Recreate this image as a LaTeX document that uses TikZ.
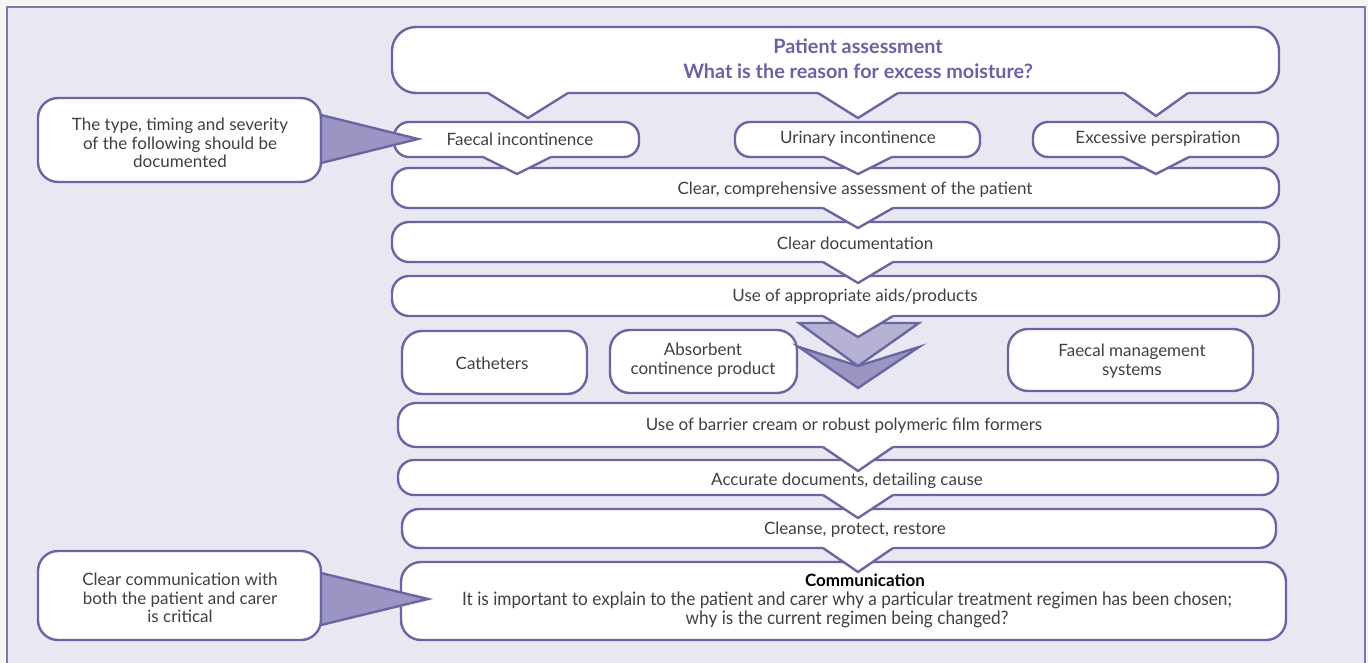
\documentclass[tikz,border=0pt]{standalone}
\usepackage{fontspec}
\setmainfont{Lato}
\usetikzlibrary{calc}
\definecolor{bg}{HTML}{E8E8F2}
\definecolor{frame}{HTML}{7E78B0}
\definecolor{edge}{HTML}{6C65A3}
\definecolor{ttl}{HTML}{6A62A3}
\definecolor{txt}{HTML}{404040}
\definecolor{chevL}{HTML}{B5B2D4}
\definecolor{chevD}{HTML}{9A95C3}
\newcommand\bx[6]{\node[box,rounded corners=#6,minimum width={(#3-#1)*1pt},minimum height={(#4-#2)*1pt}] (#5) at ({(#1+#3)/2},{(#2+#4)/2}) {};}
\newcommand\ptr[4]{%
  \fill[white] (#1-#4,#2-2.5) -- (#1-#4,#2) -- (#1,#3) -- (#1+#4,#2) -- (#1+#4,#2-2.5) -- cycle;
  \draw[edgeline] (#1-#4,#2) -- (#1,#3) -- (#1+#4,#2);}
\begin{document}
\begin{tikzpicture}[x=1pt,y=-1pt,
  box/.style={draw=edge,fill=white,line width=2.4pt,inner sep=0pt,outer sep=0pt},
  edgeline/.style={draw=edge,line width=2.4pt,line join=miter},
  t/.style={text=txt,font=\fontsize{17}{18.7}\selectfont,align=center,inner sep=0pt},
  ttlfont/.style={text=ttl,font=\fontsize{19.8}{25}\selectfont\bfseries,align=center,inner sep=0pt}]
\useasboundingbox (0,0) rectangle (1368,663);
\fill[white!96!black] (0,0) rectangle (1368,663);
\draw[frame,fill=bg,line width=1.6pt] (7,7) rectangle (1365,690);
% boxes
\bx{392}{27}{1279}{93}{top}{24pt}
\bx{394}{122}{639}{157}{fi}{15pt}
\bx{735}{122}{980}{157}{ui}{15pt}
\bx{1033}{122}{1278}{157}{ep}{15pt}
\bx{392}{168}{1279}{208}{cca}{17pt}
\bx{392}{222}{1279}{262}{cd}{17pt}
\bx{392}{276}{1279}{316}{aids}{17pt}
\bx{402}{331}{587}{394}{cath}{20pt}
\bx{610}{330}{797}{393}{abs}{20pt}
\bx{1008}{329}{1253}{391}{fms}{20pt}
\bx{398}{403}{1278}{447}{bar}{18pt}
\bx{398}{460}{1278}{495}{acc}{16pt}
\bx{402}{509}{1276}{548}{cle}{17pt}
\bx{401}{562}{1286}{640}{com}{20pt}
\bx{38}{98}{321}{182}{c1}{20pt}
\bx{38}{551}{321}{640}{c2}{20pt}
% chevrons
\draw[edgeline,fill=chevL] (799,323) -- (919,323) -- (858,366) -- cycle;
\draw[edgeline,fill=chevD] (799,347) -- (858,366) -- (919,347) -- (858,388) -- cycle;
% callout pointers
\draw[edgeline,fill=chevD] (c1.east |- 0,115) -- (418,139) -- (c1.east |- 0,163) -- cycle;
\draw[edgeline,fill=chevD] (c2.east |- 0,573) -- (428,599) -- (c2.east |- 0,625) -- cycle;
% speech pointers
\ptr{528}{93}{118}{40}
\ptr{858}{93}{118}{40}
\ptr{1156}{93}{116}{32}
\ptr{517}{157}{174}{34}
\ptr{858}{157}{174}{34}
\ptr{1156}{157}{174}{33}
\ptr{858}{208}{228}{35}
\ptr{858}{262}{283}{35}
\ptr{858}{316}{337}{35}
\ptr{858}{447}{471}{35}
\ptr{858}{495}{518}{35}
\ptr{858}{548}{572}{35}
% texts
\node[ttlfont] (ttl) at (858,59) {Patient assessment\\What is the reason for excess moisture?};
\node[t] (tfi) at (520,139) {Faecal incontinence};
\node[t] (tui) at (858,139) {Urinary incontinence};
\node[t] (tep) at (1158,139) {Excessive perspiration};
\node[t] (tcca) at (855,190) {Clear, comprehensive assessment of the patient};
\node[t] (tcd) at (855,243) {Clear documentation};
\node[t] (taids) at (855,297) {Use of appropriate aids/products};
\node[t] (tcath) at (492,363) {Catheters};
\node[t] (tabs) at (703,360) {Absorbent\\continence product};
\node[t] (tfms) at (1132,361) {Faecal management\\systems};
\node[t] (tbar) at (844,426) {Use of barrier cream or robust polymeric film formers};
\node[t] (tacc) at (847,481) {Accurate documents, detailing cause};
\node[t] (tcle) at (855,530) {Cleanse, protect, restore};
\node[t] (tc1) at (180,143) {The type, timing and severity\\of the following should be\\documented};
\node[t] (tc2) at (180,598) {Clear communication with\\both the patient and carer\\is critical};
\node[text=black,font=\fontsize{17}{18}\selectfont\bfseries,inner sep=0pt] (tcomh) at (865,580) {Communication};
\node[t,font=\fontsize{18.5}{19.5}\selectfont] (tcom) at (847,610) {\scalebox{0.93}[1]{It is important to explain to the patient and carer why a particular treatment regimen has been chosen;}\\\scalebox{0.93}[1]{why is the current regimen being changed?}};
\end{tikzpicture}
\end{document}
